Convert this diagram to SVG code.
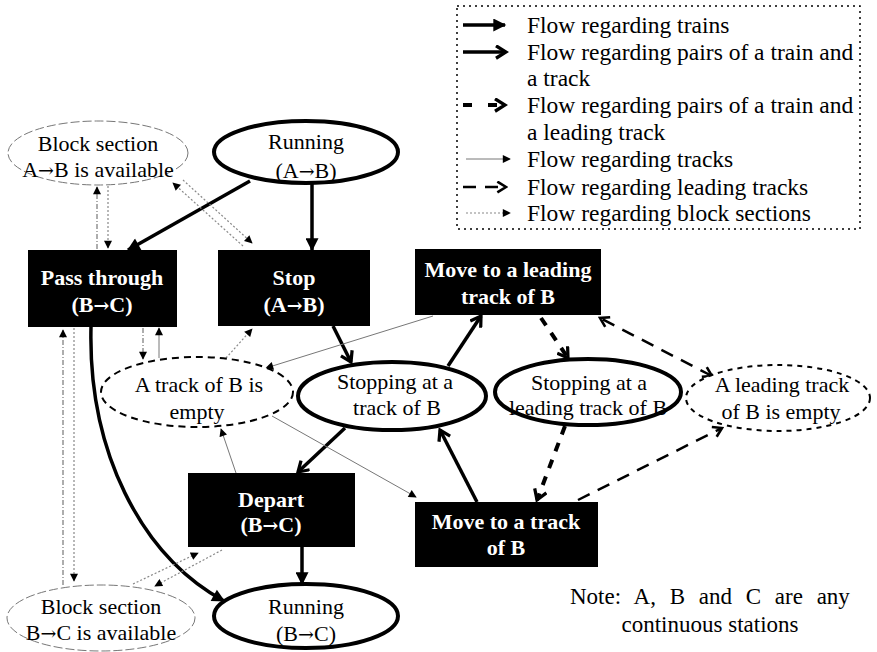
<svg xmlns="http://www.w3.org/2000/svg" width="877" height="652" viewBox="0 0 877 652">
<style>
text{font-family:"Liberation Serif","Times New Roman",serif;font-size:22px;fill:#000}
.ar{font-family:"DejaVu Serif","Liberation Serif",serif;font-size:19px}
.lg{font-size:23.5px}
.bx{fill:#000}
.bt{fill:#fff;font-weight:bold;text-anchor:middle}
.et{text-anchor:middle}
.eth{fill:#fff;stroke:#000;stroke-width:4}
.ebs{fill:#fff;stroke:#777;stroke-width:1;stroke-dasharray:9,3}
.edt{fill:#fff;stroke:#000;stroke-width:2;stroke-dasharray:7,5}
.edl{fill:#fff;stroke:#000;stroke-width:2;stroke-dasharray:5,5}
.tr{stroke:#000;stroke-width:3.5;fill:none;marker-end:url(#mf)}
.pr{stroke:#000;stroke-width:3.5;fill:none;marker-end:url(#mc)}
.lp{stroke:#000;stroke-width:4;fill:none;stroke-dasharray:9,9;marker-end:url(#mc)}
.lt{stroke:#000;stroke-width:2.5;fill:none;stroke-dasharray:13,9;marker-end:url(#mc2)}
.tk{stroke:#777;stroke-width:1;fill:none;marker-end:url(#ms)}
.bs{stroke:#888;stroke-width:1.2;fill:none;stroke-dasharray:2,2;marker-end:url(#ms)}
.dd{stroke:#777;stroke-width:1.2;fill:none;stroke-dasharray:5,2,1,2;marker-end:url(#ms)}
</style>
<defs>
<marker id="mf" viewBox="0 0 10 10" refX="9" refY="5" markerWidth="16" markerHeight="13" markerUnits="userSpaceOnUse" orient="auto"><path d="M0,0 L10,5 L0,10 z" fill="#000"/></marker>
<marker id="mc" viewBox="0 0 12 12" refX="10" refY="6" markerWidth="15" markerHeight="15" markerUnits="userSpaceOnUse" orient="auto"><path d="M2,1 L10,6 L2,11" fill="none" stroke="#000" stroke-width="2.6"/></marker>
<marker id="mc2" viewBox="0 0 12 12" refX="10" refY="6" markerWidth="13" markerHeight="13" markerUnits="userSpaceOnUse" orient="auto"><path d="M2,1 L10,6 L2,11" fill="none" stroke="#000" stroke-width="2.4"/></marker>
<marker id="mc2s" viewBox="0 0 12 12" refX="10" refY="6" markerWidth="13" markerHeight="13" markerUnits="userSpaceOnUse" orient="auto-start-reverse"><path d="M2,1 L10,6 L2,11" fill="none" stroke="#000" stroke-width="2.4"/></marker>
<marker id="ms" viewBox="0 0 10 10" refX="9" refY="5" markerWidth="9" markerHeight="8" markerUnits="userSpaceOnUse" orient="auto"><path d="M0,0 L10,5 L0,10 z" fill="#000"/></marker>
</defs>
<rect width="877" height="652" fill="#fff"/>

<g id="legend">
<rect x="457" y="6" width="403" height="223" fill="none" stroke="#000" stroke-width="1.5" stroke-dasharray="2,4"/>
<path d="M463 25 H505" class="tr"/>
<path d="M463 52 H506" class="pr"/>
<path d="M463 105 H474 M488 105 H505" class="lp" stroke-dasharray="none"/>
<path d="M466 159 H510" class="tk"/>
<path d="M463 187 H476 M485 187 H506" class="lt" stroke-dasharray="none"/>
<path d="M466 213 H510" class="bs"/>
<text class="lg" x="527" y="33">Flow regarding trains</text>
<text class="lg" x="527" y="60">Flow regarding pairs of a train and</text>
<text class="lg" x="527" y="86">a track</text>
<text class="lg" x="527" y="113">Flow regarding pairs of a train and</text>
<text class="lg" x="527" y="140">a leading track</text>
<text class="lg" x="527" y="167">Flow regarding tracks</text>
<text class="lg" x="527" y="195">Flow regarding leading tracks</text>
<text class="lg" x="527" y="221">Flow regarding block sections</text>
</g>

<g id="connectors">
<path d="M250 181 L128 250" class="tr"/>
<path d="M312 183 L312 250" class="tr"/>
<path d="M302 547 L302 584" class="tr"/>
<path d="M91 327 C88 450 140 555 224 601" class="tr"/>
<path d="M333 326 L351 362" class="pr"/>
<path d="M448 366 L481 316" class="pr"/>
<path d="M477 502 L440 430" class="pr"/>
<path d="M345 428 L298 472" class="pr"/>
<path d="M541 318 L568 358" class="lp"/>
<path d="M565 426 L537 500" class="lp"/>
<path d="M712 376 L600 318" class="lt" style="marker-start:url(#mc2s)"/>
<path d="M578 500 L722 428" class="lt"/>
<path d="M433 316 L266 368" class="tk"/>
<path d="M272 416 L416 497" class="tk"/>
<path d="M236 473 L221 429" class="tk"/>
<path d="M159 358 L159 328" class="tk"/>
<path d="M143 328 L143 359" class="dd"/>
<path d="M226 358 L252 329" class="bs"/>
<path d="M97 249 L97 187" class="dd"/>
<path d="M108 186 L108 248" class="bs"/>
<path d="M243 246 L173 183" class="bs"/>
<path d="M183 180 L252 243" class="bs"/>
<path d="M74 328 L74 581" class="bs"/>
<path d="M63 585 L63 330" class="dd"/>
<path d="M133 584 L198 553" class="bs"/>
<path d="M222 550 L155 586" class="bs"/>
</g>

<g id="blockAB">
<ellipse cx="98" cy="153" rx="90" ry="32" class="ebs"/>
<text class="et" x="98" y="151">Block section</text>
<text class="et" x="98" y="177">A<tspan class="ar">→</tspan>B is available</text>
</g>
<g id="runAB">
<ellipse cx="306" cy="152" rx="92" ry="31" class="eth"/>
<text class="et" x="306" y="149">Running</text>
<text class="et" x="306" y="178">(A<tspan class="ar">→</tspan>B)</text>
</g>
<g id="pass">
<rect x="28" y="250" width="149" height="77" class="bx"/>
<text class="bt" x="102" y="285">Pass through</text>
<text class="bt" x="102" y="312">(B<tspan class="ar">→</tspan>C)</text>
</g>
<g id="stop">
<rect x="218" y="250" width="152" height="76" class="bx"/>
<text class="bt" x="294" y="285">Stop</text>
<text class="bt" x="294" y="312">(A<tspan class="ar">→</tspan>B)</text>
</g>
<g id="moveLead">
<rect x="415" y="249" width="186" height="66" class="bx"/>
<text class="bt" x="508" y="277">Move to a leading</text>
<text class="bt" x="508" y="304">track of B</text>
</g>
<g id="trackEmpty">
<ellipse cx="197" cy="392" rx="96" ry="35" class="edt"/>
<text class="et" x="199" y="392">A track of B is</text>
<text class="et" x="197" y="419">empty</text>
</g>
<g id="stopTrack">
<ellipse cx="392" cy="396" rx="94" ry="34" class="eth"/>
<text class="et" x="395" y="389">Stopping at a</text>
<text class="et" x="397" y="415">track of B</text>
</g>
<g id="stopLead">
<ellipse cx="588" cy="392" rx="93" ry="33" class="eth"/>
<text class="et" x="589" y="390">Stopping at a</text>
<text class="et" x="588" y="415">leading track of B</text>
</g>
<g id="leadEmpty">
<ellipse cx="778" cy="398" rx="92" ry="33" class="edl"/>
<text class="et" x="782" y="392">A leading track</text>
<text class="et" x="781" y="419">of B is empty</text>
</g>
<g id="depart">
<rect x="188" y="473" width="167" height="74" class="bx"/>
<text class="bt" x="271" y="507">Depart</text>
<text class="bt" x="271" y="532">(B<tspan class="ar">→</tspan>C)</text>
</g>
<g id="moveTrack">
<rect x="415" y="502" width="183" height="65" class="bx"/>
<text class="bt" x="506" y="529">Move to a track</text>
<text class="bt" x="506" y="555">of B</text>
</g>
<g id="runBC">
<ellipse cx="306" cy="616" rx="92" ry="32" class="eth"/>
<text class="et" x="306" y="614">Running</text>
<text class="et" x="306" y="641">(B<tspan class="ar">→</tspan>C)</text>
</g>
<g id="blockBC">
<ellipse cx="101" cy="618" rx="94" ry="33" class="ebs"/>
<text class="et" x="101" y="614">Block section</text>
<text class="et" x="101" y="640">B<tspan class="ar">→</tspan>C is available</text>
</g>
<g id="note">
<text x="570" y="604" style="font-size:23px;word-spacing:8px">Note: A, B and C are any</text>
<text class="et" x="710" y="632" style="font-size:23px">continuous stations</text>
</g>
</svg>
